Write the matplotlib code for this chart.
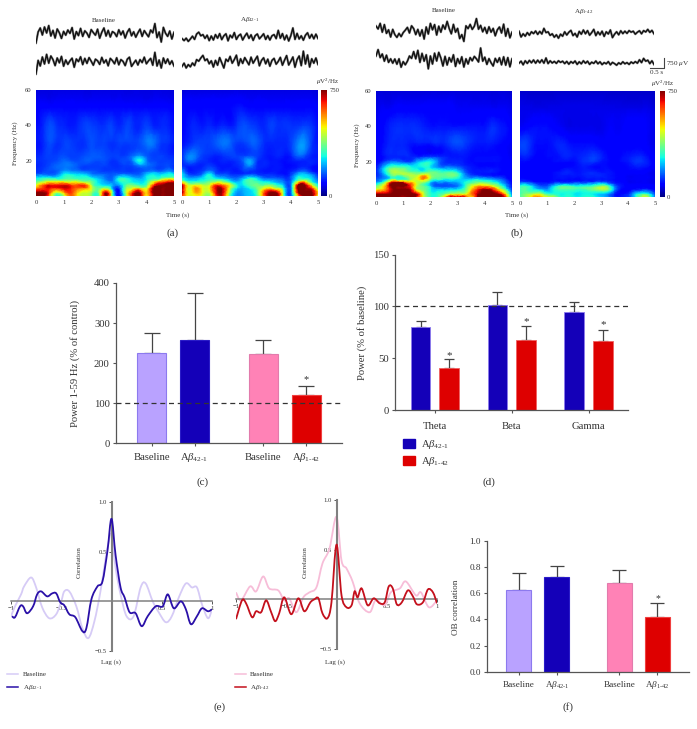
"""Amyloid beta OB oscillation figure: traces, spectrograms, bars and correlograms."""
import matplotlib
matplotlib.use('Agg')
import matplotlib.pyplot as plt
from matplotlib.cm import ScalarMappable
from matplotlib.colors import Normalize
from matplotlib.lines import Line2D
from matplotlib.patches import Patch, PathPatch
from matplotlib.path import Path
from matplotlib.tri import Triangulation, UniformTriRefiner
import numpy as np

plt.rcParams['font.family'] = ['Liberation Serif', 'DejaVu Serif']
plt.rcParams['mathtext.fontset'] = 'custom'
plt.rcParams['mathtext.rm'] = 'Liberation Serif'
plt.rcParams['mathtext.it'] = 'Liberation Serif:italic'
plt.rcParams['mathtext.bf'] = 'Liberation Serif:bold'

W, H = 697, 729
TXT = '#333333'
A42 = 'A$\\beta_{42\\text{-}1}$'
A142 = 'A$\\beta_{1\\text{-}42}$'

# raw traces, microvolts
TRACE_A1_TOP = [-450, 100, 300, -50, 350, 50, 420, -100, 180, -200, 250, 60, -220, 130, -60, 200, 30, 320, -250, 120, -80, 280, -120, 160, 40, -170, 220, 70, -60, 240, -210, 90, 300, -100, 180, -150, 120, 50, -130, 210, -40, 150, -200, 90, 260, -90, 110, -160, 60, 240, -120, 170, 10, -140, 200, 60, 520, -180, 100, -400, 330, 40, -120, 150, -250, 80]
TRACE_A1_BOT = [-600, 80, -200, 250, -100, 380, -60, 300, 120, -180, 200, -40, 280, -210, 100, -120, 60, 190, -260, 150, 20, 260, -130, 180, -70, 220, 40, -160, 140, 60, -120, 230, -50, 110, -190, 180, 70, -90, 210, -140, 120, 30, -180, 140, 240, -220, -60, 90, -150, 120, -30, 240, -90, 60, 180, -160, 480, -200, 100, -300, 200, -70, 150, -120, 60, -200]
TRACE_A2_TOP = [-80, -180, -60, -220, -100, 40, -120, 150, 240, 60, 120, -70, 90, -180, 50, -150, 120, -60, 170, -130, 60, 160, -190, 90, -40, 220, -120, 60, 140, -150, 40, 190, -70, 110, -170, 70, 150, -90, 30, 160, -120, 70, -150, 60, 120, -80, 330, -60, 170, -140, 90, -200, 60, 450, -120, 180, -100, 60, -160, 90, 210, -60, 130, -90, 140, -70]
TRACE_A2_BOT = [-220, -60, -300, -130, -240, -50, -180, 120, 40, 200, 330, 70, 150, -90, 60, -250, 80, -160, 220, -40, -300, 140, 30, 280, -60, 120, 340, -180, 160, -70, 220, 40, -140, 240, -60, 120, 290, -190, 80, 210, -90, 140, -210, 80, 180, -110, 30, 230, -160, 90, 320, -150, 40, 250, -260, 120, 300, -180, 540, -100, 350, -250, 160, -60, 200, -120]
TRACE_B1_TOP = [250, 100, 380, -60, 320, -120, 60, -300, 80, -180, -320, -120, -280, -80, 40, 180, -100, 260, 120, -180, 80, -250, 60, -400, 200, -150, 380, 60, 320, -200, 240, -60, 300, 90, 480, 120, -140, 330, -60, 130, -380, -180, -520, 260, 120, 330, 80, 240, 620, 90, 280, -40, 180, -120, 210, -60, 130, -240, 60, 200, -100, 340, -260, 120, -340, -60]
TRACE_B1_BOT = [200, 520, 120, 300, -60, 240, -120, 60, -160, 50, -210, 60, -360, -80, -240, -60, 200, 80, 420, 60, 480, -120, 330, -60, 260, -440, 200, -200, 340, -50, 380, 100, -300, 180, -250, 120, -100, 260, -320, 70, -180, 160, -350, 60, -200, 120, -40, 180, 60, -100, 600, -60, 140, -220, 70, -140, -300, 80, -120, 110, -240, 160, -260, 120, -340, 60]
TRACE_B2_TOP = [80, -200, -40, -160, 20, -110, 60, -30, 100, -70, 80, -50, 230, 20, 60, -120, -40, -210, -90, -260, -60, -160, 60, -100, 40, 130, -130, -20, -200, 80, -60, 150, -40, 120, -110, 20, 180, -130, 60, -90, 90, -170, 60, -50, 150, -230, -60, 60, -90, 110, -30, 90, -20, 120, 40, 90, -60, 40, 110, -40, 120, 50, 180, 30, 130, -40]
TRACE_B2_BOT = [-60, 40, -140, 60, -70, 80, -40, 100, -60, 90, -40, 110, -60, 200, -80, 60, -50, 30, -70, 60, -20, 40, -80, 30, -110, 20, -60, 50, -120, 10, -90, 60, -60, 40, -120, -10, -70, 50, -90, 10, -130, -30, -90, 20, -140, -20, -80, -160, -40, -110, 10, -90, -30, -120, 0, -70, 20, -60, 110, -30, 180, 40, 90, -80, 60, -120]

# spectrogram grids: one row per FREQ entry, one column per TIME entry
FREQ = [0, 2, 4, 6, 8, 10, 12, 14, 17, 20, 23, 30, 40, 50, 60]
TIME = [0, .25, .5, .75, 1, 1.25, 1.5, 1.75, 2, 2.25, 2.5, 2.75, 3, 3.25, 3.5, 3.75, 4, 4.25, 4.5, 4.75, 5]
HEAT_A1 = [
    [750, 750, 560, 280, 400, 600, 500, 430, 380, 340, 700, 420, 80, 400, 680, 760, 500, 760, 760, 760, 760],
    [750, 750, 620, 420, 540, 640, 520, 450, 400, 350, 720, 400, 100, 420, 640, 750, 520, 760, 760, 760, 760],
    [580, 640, 660, 620, 680, 660, 590, 560, 460, 350, 470, 280, 120, 400, 490, 540, 470, 760, 760, 760, 760],
    [450, 600, 680, 660, 680, 640, 620, 640, 430, 300, 280, 230, 200, 340, 370, 320, 360, 640, 740, 760, 760],
    [340, 410, 470, 470, 490, 460, 470, 430, 370, 270, 220, 190, 280, 310, 280, 260, 300, 460, 580, 680, 700],
    [270, 300, 300, 290, 320, 340, 320, 310, 280, 240, 190, 170, 280, 290, 240, 220, 270, 320, 340, 390, 380],
    [170, 190, 180, 190, 270, 280, 260, 250, 200, 180, 170, 160, 190, 190, 170, 170, 250, 280, 260, 280, 260],
    [130, 140, 150, 160, 210, 200, 190, 170, 160, 150, 140, 140, 140, 140, 140, 150, 180, 200, 180, 210, 170],
    [120, 130, 150, 170, 180, 180, 160, 140, 140, 140, 140, 130, 130, 140, 150, 190, 180, 160, 140, 150, 130],
    [130, 130, 140, 150, 170, 160, 150, 160, 160, 150, 150, 130, 140, 150, 190, 290, 190, 150, 140, 140, 130],
    [120, 130, 140, 140, 150, 140, 140, 150, 160, 160, 150, 140, 140, 140, 170, 200, 160, 140, 140, 130, 120],
    [110, 120, 150, 130, 140, 140, 130, 130, 150, 140, 140, 130, 140, 140, 140, 150, 180, 180, 140, 130, 110],
    [100, 120, 150, 130, 120, 110, 120, 140, 140, 130, 130, 140, 120, 140, 130, 120, 140, 120, 120, 120, 100],
    [85, 95, 95, 95, 95, 95, 95, 95, 95, 95, 95, 95, 95, 95, 95, 95, 95, 95, 95, 95, 85],
    [60, 65, 65, 65, 65, 65, 65, 65, 65, 65, 65, 65, 65, 65, 65, 65, 65, 65, 65, 65, 60],
]
HEAT_A2 = [
    [640, 460, 480, 440, 400, 620, 680, 340, 190, 210, 240, 300, 580, 760, 740, 340, 170, 540, 760, 760, 400],
    [740, 470, 540, 480, 440, 680, 700, 400, 210, 220, 250, 340, 600, 760, 720, 340, 180, 680, 760, 760, 500],
    [740, 450, 570, 480, 490, 700, 700, 440, 260, 230, 270, 350, 510, 580, 480, 300, 190, 760, 760, 680, 350],
    [760, 450, 480, 440, 460, 640, 590, 480, 300, 260, 330, 370, 370, 380, 310, 230, 200, 740, 760, 520, 270],
    [450, 300, 300, 310, 370, 420, 410, 330, 230, 280, 340, 320, 270, 260, 220, 180, 180, 440, 540, 330, 200],
    [290, 220, 220, 260, 300, 280, 250, 200, 170, 230, 300, 250, 180, 170, 160, 140, 160, 300, 300, 250, 150],
    [280, 160, 150, 190, 280, 180, 160, 140, 130, 140, 160, 150, 130, 130, 120, 110, 140, 240, 250, 200, 120],
    [230, 120, 120, 140, 190, 140, 120, 120, 110, 130, 130, 120, 110, 110, 110, 100, 120, 160, 180, 130, 100],
    [130, 120, 120, 120, 140, 120, 110, 110, 120, 150, 190, 130, 120, 110, 110, 100, 100, 110, 120, 110, 100],
    [120, 180, 160, 130, 120, 110, 120, 120, 130, 170, 220, 140, 120, 110, 110, 100, 110, 120, 120, 120, 110],
    [120, 190, 180, 140, 130, 120, 130, 140, 140, 140, 150, 140, 120, 110, 120, 110, 120, 170, 160, 120, 110],
    [100, 120, 140, 140, 140, 160, 180, 170, 140, 140, 160, 160, 130, 120, 120, 120, 140, 190, 200, 140, 110],
    [90, 110, 120, 110, 120, 110, 120, 110, 130, 150, 140, 130, 120, 140, 130, 130, 130, 130, 140, 130, 100],
    [85, 95, 95, 95, 95, 95, 95, 95, 105, 105, 95, 95, 95, 95, 95, 95, 95, 95, 95, 95, 85],
    [60, 65, 65, 65, 65, 65, 65, 65, 65, 65, 65, 65, 65, 65, 65, 65, 65, 65, 65, 65, 60],
]
HEAT_B1 = [
    [760, 760, 760, 760, 720, 760, 680, 460, 300, 320, 540, 760, 760, 740, 500, 760, 760, 760, 760, 640, 180],
    [720, 720, 740, 760, 760, 760, 700, 440, 300, 300, 350, 430, 440, 450, 580, 720, 760, 760, 720, 520, 160],
    [470, 530, 670, 760, 760, 720, 460, 370, 280, 250, 260, 280, 300, 350, 520, 660, 740, 700, 540, 350, 120],
    [350, 480, 700, 760, 760, 660, 440, 350, 250, 170, 160, 170, 190, 290, 450, 550, 560, 510, 390, 240, 100],
    [210, 330, 620, 740, 740, 580, 450, 360, 240, 180, 180, 200, 220, 280, 350, 390, 370, 330, 270, 180, 90],
    [150, 200, 320, 360, 340, 400, 460, 550, 390, 310, 280, 290, 270, 240, 240, 270, 250, 230, 190, 130, 80],
    [120, 180, 290, 350, 380, 430, 430, 540, 410, 360, 350, 370, 330, 210, 150, 140, 130, 120, 110, 100, 80],
    [110, 220, 370, 430, 410, 360, 340, 330, 360, 350, 320, 330, 290, 180, 120, 110, 110, 110, 100, 90, 80],
    [100, 210, 320, 340, 330, 290, 270, 280, 270, 210, 180, 180, 160, 130, 110, 100, 100, 100, 100, 90, 80],
    [90, 120, 170, 180, 160, 150, 220, 270, 280, 200, 130, 120, 120, 110, 100, 100, 100, 100, 100, 90, 80],
    [85, 100, 120, 120, 120, 120, 120, 130, 140, 130, 120, 110, 110, 110, 100, 100, 100, 100, 100, 90, 75],
    [85, 100, 120, 120, 120, 110, 110, 110, 110, 120, 120, 140, 150, 140, 120, 110, 110, 110, 100, 90, 75],
    [80, 95, 115, 125, 125, 125, 125, 115, 105, 105, 105, 105, 105, 105, 105, 105, 105, 125, 115, 105, 80],
    [70, 80, 80, 90, 90, 90, 90, 90, 90, 90, 90, 90, 80, 80, 80, 80, 80, 80, 80, 80, 70],
    [55, 60, 60, 60, 60, 60, 60, 60, 60, 60, 60, 60, 60, 60, 60, 60, 60, 60, 60, 60, 55],
]
HEAT_B2 = [
    [330, 420, 560, 560, 480, 450, 310, 310, 290, 290, 320, 300, 260, 210, 130, 110, 140, 250, 430, 410, 160],
    [320, 380, 420, 430, 310, 300, 280, 290, 270, 270, 280, 270, 250, 210, 130, 100, 120, 240, 300, 280, 130],
    [320, 330, 280, 250, 210, 290, 330, 330, 320, 310, 330, 360, 390, 360, 200, 100, 90, 120, 140, 130, 90],
    [290, 310, 240, 160, 160, 250, 320, 330, 310, 310, 330, 360, 410, 350, 190, 110, 90, 90, 90, 90, 80],
    [160, 170, 130, 110, 110, 140, 150, 160, 160, 160, 170, 180, 200, 170, 120, 100, 80, 80, 80, 80, 70],
    [100, 100, 90, 90, 90, 100, 100, 100, 100, 100, 110, 110, 110, 110, 100, 90, 80, 80, 80, 80, 70],
    [90, 90, 90, 90, 90, 100, 110, 110, 110, 110, 120, 120, 120, 110, 100, 90, 80, 80, 80, 80, 70],
    [90, 90, 90, 90, 90, 100, 110, 120, 110, 110, 120, 120, 110, 110, 100, 90, 90, 90, 90, 80, 70],
    [90, 90, 90, 90, 90, 90, 90, 100, 100, 110, 110, 100, 100, 100, 90, 90, 100, 110, 110, 100, 80],
    [100, 100, 90, 90, 90, 100, 100, 100, 100, 120, 130, 130, 110, 100, 90, 100, 110, 130, 130, 110, 80],
    [110, 120, 100, 90, 100, 100, 110, 120, 110, 120, 130, 140, 120, 100, 90, 100, 110, 120, 120, 100, 80],
    [140, 140, 110, 100, 100, 110, 120, 110, 100, 100, 100, 100, 90, 90, 90, 90, 90, 90, 90, 80, 70],
    [80, 90, 100, 100, 100, 90, 80, 70, 70, 70, 70, 70, 70, 80, 80, 80, 90, 90, 90, 80, 70],
    [70, 70, 70, 70, 70, 70, 70, 70, 70, 70, 70, 70, 70, 70, 70, 70, 70, 70, 70, 70, 60],
    [50, 50, 50, 50, 50, 50, 50, 50, 50, 50, 50, 50, 50, 50, 50, 50, 50, 50, 50, 50, 50],
]

# panel c
C_VALUES = [225, 258, 222, 121]
C_TOPS = [275, 376, 258, 144]
# panel d
D_BANDS = ['Theta', 'Beta', 'Gamma']
D_A42 = [80, 101, 95]
D_A42_TOPS = [86, 114, 104]
D_A142 = [40.5, 68, 66.5]
D_A142_TOPS = [49.5, 81.5, 77]
# panel f
F_VALUES = [.62, .72, .68, .42]
F_TOPS = [.75, .81, .775, .525]

# panel e, cross correlation
LAG_BLUE = [-.99, -.96, -.91, -.88, -.84, -.78, -.74, -.70, -.64, -.59, -.55, -.51, -.47, -.42, -.36, -.29, -.25, -.20, -.14, -.09, -.04, 0, .04, .09, .13, .18, .24, .30, .36, .44, .51, .56, .62, .69, .74, .79, .85, .90, .96, 1]
CORR_BLUE = [-.15, -.16, -.05, -.05, -.12, -.05, .07, .10, .05, .08, .08, -.01, -.04, -.13, -.16, -.30, -.27, .02, .15, .20, .51, .83, .47, .14, .04, -.11, -.12, -.25, -.15, -.05, -.05, .07, -.07, 0, -.08, -.23, -.15, -.07, -.10, -.08]
LAG_LILAC = [-1, -.96, -.90, -.87, -.80, -.75, -.69, -.62, -.55, -.50, -.47, -.42, -.35, -.29, -.23, -.17, -.11, -.04, 0, .04, .09, .15, .22, .29, .34, .41, .47, .54, .60, .67, .74, .80, .85, .90, .96, 1]
CORR_LILAC = [-.15, -.05, .07, .15, .24, .14, -.06, -.17, -.13, 0, .10, .10, -.05, -.27, -.37, -.20, .10, .54, .67, .34, .07, -.15, -.15, .14, .18, 0, -.11, -.21, -.15, .04, .18, .14, .14, -.03, -.17, -.08]
LAG_RED = [-1, -.94, -.90, -.84, -.80, -.75, -.70, -.65, -.61, -.57, -.52, -.45, -.38, -.32, -.26, -.22, -.18, -.14, -.09, -.05, 0, .05, .10, .15, .18, .21, .25, .31, .37, .43, .48, .52, .56, .60, .65, .71, .76, .80, .86, .91, .96, 1]
CORR_RED = [-.20, -.01, -.04, -.18, -.12, -.13, -.01, -.13, -.22, -.14, .02, -.15, .01, -.12, -.03, 0, .01, -.14, -.19, -.03, .55, .04, -.08, -.06, .08, .02, .11, -.06, .01, -.04, -.03, .13, .11, -.05, -.03, .09, .03, -.05, -.03, .10, .07, -.04]
LAG_PINK = [-1, -.95, -.86, -.80, -.73, -.67, -.58, -.52, -.47, -.40, -.33, -.27, -.20, -.14, -.07, 0, .05, .10, .16, .23, .33, .39, .48, .54, .63, .69, .79, .84, .92, 1]
CORR_PINK = [.07, -.01, .13, .08, .23, .11, .09, -.01, .01, -.13, .02, .07, .12, .36, .51, .83, .39, .31, .18, -.04, -.13, -.01, -.06, .07, .11, .18, .04, .07, -.08, -.01]

BAR_LABELS = ['Baseline', A42, 'Baseline', A142]
BAR_COLORS = ['#B9A2FF', '#1400B8', '#FF82B6', '#DE0000']
BAR_EDGES = ['#8C7AEE', '#2A1CC8', '#E27BAC', '#F04040']

fig = plt.figure(figsize=(W / 100, H / 100), dpi=100, facecolor='white')


def px_axes(left, top, right, bottom):
    return fig.add_axes([left / W, 1 - bottom / H, (right - left) / W, (bottom - top) / H])


def ptext(x, y, s, size, **kw):
    kw.setdefault('ha', 'center')
    kw.setdefault('va', 'center')
    kw.setdefault('color', TXT)
    fig.text(x / W, 1 - y / H, s, fontsize=size, **kw)


def trace(values, left, right, mid):
    ax = px_axes(left, mid - 15, right, mid + 15)
    t = np.linspace(0, 5, len(values))
    ax.plot(t, values, color='#9a9a9a', lw=1.7)
    ax.plot(t, values, color='#111111', lw=1.0)
    ax.set_xlim(0, 5)
    ax.set_ylim(-750, 750)
    ax.axis('off')


def spectrogram(grid, left, right, top, bottom, first):
    ax = px_axes(left, top, right, bottom)
    tt, ff = np.meshgrid(TIME, FREQ)
    # cubic refinement so the colours run smoothly between the grid values
    tri = Triangulation(tt.ravel(), ff.ravel())
    fine_tri, fine_z = UniformTriRefiner(tri).refine_field(np.array(grid, dtype=float).ravel(), subdiv=3)
    ax.tripcolor(fine_tri, fine_z, shading='gouraud', cmap='jet', vmin=0, vmax=750)
    ax.set_xlim(0, 5)
    ax.set_ylim(0, 60)
    ax.set_xticks(range(6))
    if first:
        ax.set_yticks([0, 20, 40, 60], ['', '20', '40', '60'])
    else:
        ax.set_yticks([])
    ax.tick_params(labelsize=4.8, length=0, pad=3, labelcolor=TXT)
    for s in ax.spines.values():
        s.set_visible(False)


def colorbar(left, right, top, bottom):
    cax = px_axes(left, top, right, bottom)
    cb = fig.colorbar(ScalarMappable(Normalize(0, 750), 'jet'), cax=cax)
    cb.set_ticks([0, 750])
    cb.outline.set_visible(False)
    cax.tick_params(labelsize=4.8, length=0, pad=1.5, labelcolor=TXT)


def style_bars(ax, size, xpad):
    ax.spines['top'].set_visible(False)
    ax.spines['right'].set_visible(False)
    for s in ['left', 'bottom']:
        ax.spines[s].set_color('#555555')
        ax.spines[s].set_linewidth(0.9)
    ax.tick_params(labelsize=size, length=2.5, width=0.8, color='#555555', labelcolor=TXT, pad=2)
    ax.tick_params(axis='x', pad=xpad)
    for lab in ax.get_xticklabels():
        lab.set_verticalalignment('baseline')


def bar_axes(box, xlim, ylim, yticks, positions, values, tops, capsize, yfmt, size, xpad):
    ax = px_axes(*box)
    ax.bar(positions, values, width=0.66, color=BAR_COLORS, edgecolor=BAR_EDGES, lw=0.8, zorder=2)
    ax.errorbar(positions, values, yerr=[np.zeros(len(values)), np.array(tops) - np.array(values)],
                fmt='none', ecolor='#444444', elinewidth=0.9, capsize=capsize, capthick=0.9, zorder=1)
    ax.set_xlim(*xlim)
    ax.set_ylim(*ylim)
    ax.set_yticks(yticks, [yfmt % v for v in yticks])
    ax.set_xticks(positions, BAR_LABELS)
    style_bars(ax, size, xpad)
    return ax


def smooth_line(ax, lag, corr, color, z):
    # bezier path through every read point
    pts = np.column_stack([lag, corr])
    verts = [pts[0]]
    codes = [Path.MOVETO]
    for i in range(len(pts) - 1):
        before = pts[max(i - 1, 0)]
        after = pts[min(i + 2, len(pts) - 1)]
        verts += [pts[i] + (pts[i + 1] - before) / 6, pts[i + 1] - (after - pts[i]) / 6, pts[i + 1]]
        codes += [Path.CURVE4] * 3
    ax.add_patch(PathPatch(Path(verts, codes), fill=False, edgecolor=color, lw=1.3, zorder=z))


def correlogram(left, right, top, bottom, lag_a, corr_a, col_a, lag_b, corr_b, col_b):
    ax = px_axes(left, top, right, bottom)
    smooth_line(ax, lag_a, corr_a, col_a, 2)
    smooth_line(ax, lag_b, corr_b, col_b, 3)
    ax.set_xlim(-1, 1)
    ax.set_ylim(-.5, 1)
    for s in ['top', 'right']:
        ax.spines[s].set_visible(False)
    ax.spines['left'].set_position(('data', 0))
    ax.spines['bottom'].set_position(('data', 0))
    ax.spines['left'].set_color('#808080')
    ax.spines['bottom'].set_color('#808080')
    ax.spines['left'].set_linewidth(1.5)
    ax.spines['bottom'].set_linewidth(1.1)
    ax.set_xticks([-1, -.5, .5, 1], ['\u22121', '\u22120.5', '0.5', '1'])
    ax.set_yticks([-.5, .5, 1], ['\u22120.5', '0.5', '1.0'])
    ax.tick_params(labelsize=4.8, length=2.5, width=0.7, color='#555555', labelcolor=TXT, pad=1)
    ax.patch.set_alpha(0)
    return ax


# traces and titles, panels a and b
trace(TRACE_A1_TOP, 36, 174, 34)
trace(TRACE_A1_BOT, 36, 174, 62)
trace(TRACE_A2_TOP, 182, 318, 37)
trace(TRACE_A2_BOT, 182, 318, 62)
trace(TRACE_B1_TOP, 376, 512, 31)
trace(TRACE_B1_BOT, 376, 512, 60)
trace(TRACE_B2_TOP, 519, 654, 33)
trace(TRACE_B2_BOT, 519, 654, 62)
ptext(104, 20, 'Baseline', 5)
ptext(250, 20, A42, 5)
ptext(444, 10, 'Baseline', 5)
ptext(584, 11, A142, 5)

# scale bar
fig.add_artist(Line2D([650 / W, 664 / W, 664 / W], [1 - 68 / H, 1 - 68 / H, 1 - 58 / H], color='#444444', lw=0.8))
ptext(666, 63, '750 $\\mu$V', 5.2, ha='left')
ptext(657, 73, '0.5 s', 5)

spectrogram(HEAT_A1, 36, 174, 90, 196, True)
spectrogram(HEAT_A2, 182, 318, 90, 196, False)
colorbar(321, 327, 90, 196)
ptext(328, 82, '$\\mu$V$^2$/Hz', 5)
ptext(15, 143, 'Frequency (Hz)', 5, rotation=90)
ptext(178, 215, 'Time (s)', 5)
ptext(173, 233, '(a)', 8)

spectrogram(HEAT_B1, 376, 512, 91, 197, True)
spectrogram(HEAT_B2, 520, 655, 91, 197, False)
colorbar(660, 665, 91, 197)
ptext(663, 84, '$\\mu$V$^2$/Hz', 5)
ptext(357, 145, 'Frequency (Hz)', 5, rotation=90)
ptext(517, 215, 'Time (s)', 5)
ptext(517, 233, '(b)', 8)

# panel c
pos_c = [0, 1, 2.6, 3.6]
ax = bar_axes((116, 283, 342, 443.3), (-.826, 4.43), (0, 400), [0, 100, 200, 300, 400],
              pos_c, C_VALUES, C_TOPS, 5.6, '%d', 7.7, 9.8)
ax.axhline(100, color='#333333', lw=0.9, ls=(0, (4, 3)), zorder=4)
ax.text(pos_c[3], 158, '*', fontsize=7.5, ha='center', va='center', color=TXT)
ptext(75, 363, 'Power 1-59 Hz (% of control)', 7.7, rotation=90)
ptext(203, 482, '(c)', 8)

# panel d
centers = np.arange(3)
ax = px_axes(395.3, 254.7, 627.7, 410)
ax.bar(centers - .186, D_A42, width=.256, color='#1400B8', edgecolor='#8C7AEE', lw=0.6, zorder=2)
ax.bar(centers + .186, D_A142, width=.256, color='#DE0000', edgecolor='#F06060', lw=0.6, zorder=2)
ax.errorbar(centers - .186, D_A42, yerr=[np.zeros(3), np.array(D_A42_TOPS) - np.array(D_A42)],
            fmt='none', ecolor='#444444', elinewidth=0.9, capsize=3.6, capthick=0.9, zorder=1)
ax.errorbar(centers + .186, D_A142, yerr=[np.zeros(3), np.array(D_A142_TOPS) - np.array(D_A142)],
            fmt='none', ecolor='#444444', elinewidth=0.9, capsize=3.6, capthick=0.9, zorder=1)
ax.axhline(100, color='#333333', lw=0.9, ls=(0, (4, 3)), zorder=4)
for c, y in zip(centers + .186, [53, 85, 82]):
    ax.text(c, y, '*', fontsize=8, ha='center', va='center', color=TXT)
ax.set_xlim(-.516, 2.51)
ax.set_ylim(0, 150)
ax.set_xticks(centers, D_BANDS)
ax.set_yticks([0, 50, 100, 150])
style_bars(ax, 7.7, 11)
ax.legend(handles=[Patch(color='#1400B8', label=A42), Patch(color='#DE0000', label=A142)],
          loc='upper left', bbox_to_anchor=(.033, -.18), frameon=False, fontsize=7.7,
          handlelength=1.15, handleheight=1.0, handletextpad=.5, labelspacing=.4, borderpad=0, borderaxespad=0,
          labelcolor=TXT)
ptext(362, 333, 'Power (% of baseline)', 7.7, rotation=90)
ptext(489, 482, '(d)', 8)

# panel e
correlogram(11, 212, 502, 651, LAG_LILAC, CORR_LILAC, '#D6CBF6', LAG_BLUE, CORR_BLUE, '#2A10A8')
ptext(79, 562, 'Correlation', 5, rotation=90)
ptext(111, 662, 'Lag (s)', 5)
fig.add_artist(Line2D([7 / W, 18 / W], [1 - 674 / H] * 2, color='#D6CBF6', lw=1.1))
fig.add_artist(Line2D([7 / W, 18 / W], [1 - 687 / H] * 2, color='#2A10A8', lw=1.1))
ptext(23, 674, 'Baseline', 5, ha='left')
ptext(23, 687, A42, 5, ha='left')

correlogram(236, 437, 500, 649, LAG_PINK, CORR_PINK, '#F7BDD8', LAG_RED, CORR_RED, '#C4101C')
ptext(305, 562, 'Correlation', 5, rotation=90)
ptext(335, 662, 'Lag (s)', 5)
fig.add_artist(Line2D([235 / W, 246 / W], [1 - 674 / H] * 2, color='#F7BDD8', lw=1.1))
fig.add_artist(Line2D([235 / W, 246 / W], [1 - 687 / H] * 2, color='#C4101C', lw=1.1))
ptext(250, 674, 'Baseline', 5, ha='left')
ptext(250, 687, A142, 5, ha='left')
ptext(220, 707, '(e)', 8)

# panel f
pos_f = [0, 1, 2.65, 3.65]
ax = bar_axes((487.3, 540.7, 689, 671.7), (-.83, 4.48), (0, 1), [0, .2, .4, .6, .8, 1],
              pos_f, F_VALUES, F_TOPS, 4.7, '%.1f', 6.6, 8.5)
ax.text(pos_f[3], .56, '*', fontsize=7, ha='center', va='center', color=TXT)
ptext(456, 607, 'OB correlation', 6.6, rotation=90)
ptext(568, 707, '(f)', 8)

fig.savefig('out.png', dpi=100, facecolor='white')
plt.close(fig)
print("OK: out.png")
